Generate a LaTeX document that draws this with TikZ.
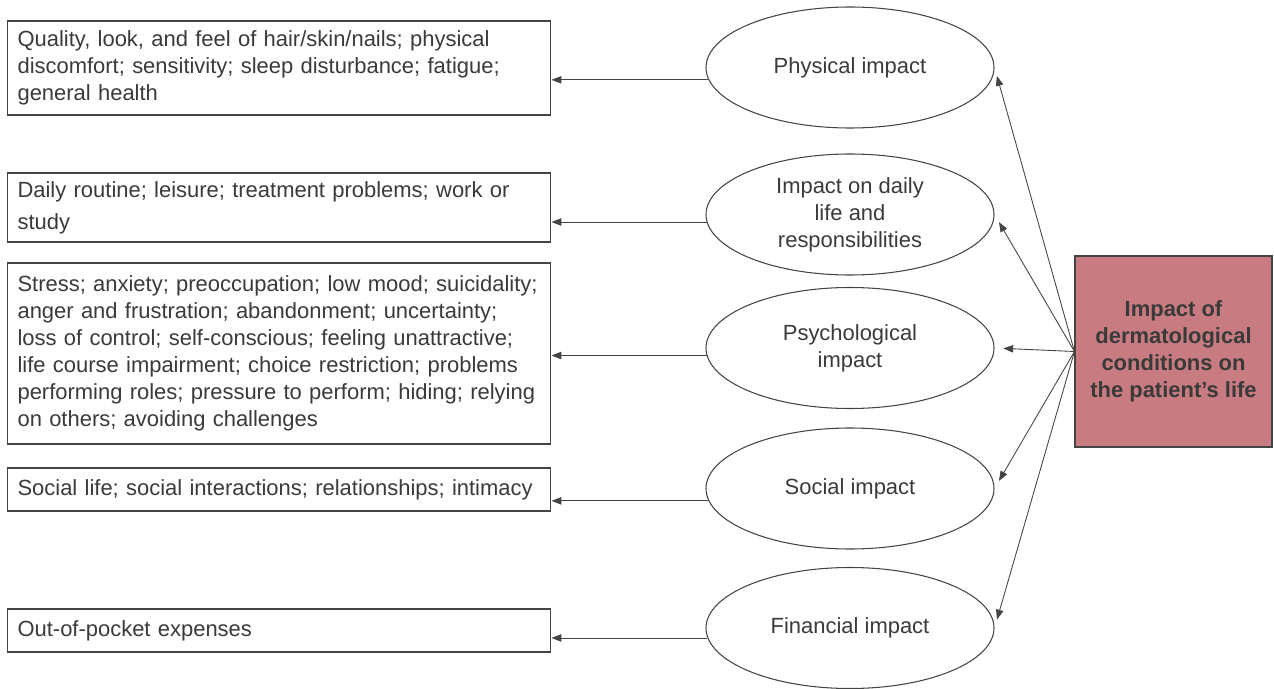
\documentclass[tikz,border=0pt]{standalone}
\usepackage{fontspec}
\setmainfont{Liberation Sans}
\usetikzlibrary{arrows.meta,shapes.geometric}
\definecolor{inkgray}{HTML}{3A3A3A}
\definecolor{linegray}{HTML}{444444}
\definecolor{rosered}{HTML}{C87B80}

\begin{document}
\begin{tikzpicture}[x=0.02cm,y=-0.02cm,>={Triangle[length=5.6pt,width=4.2pt]},
  font=\fontsize{12.5}{15.4}\selectfont,text=inkgray,
  item/.style={draw=linegray,line width=0.6pt,align=left,text width=10.46cm,inner xsep=0.21cm,inner ysep=0pt},
  area/.style={draw=linegray,line width=0.6pt,ellipse,minimum width=288*0.02cm,minimum height=121*0.02cm,inner sep=0pt,align=center},
  link/.style={draw=linegray,line width=0.5pt,->}]
\useasboundingbox (0,0) rectangle (1274,689);
\node[item,minimum height=94*0.02cm] (phys) at (279,68) {Quality, look, and feel of hair/skin/nails; physical\\discomfort; sensitivity; sleep disturbance; fatigue;\\general health};
\node[item,minimum height=69*0.02cm] (daily) at (279,207.5) {Daily routine; leisure; treatment problems; work or\\[3pt]study};
\node[item,minimum height=181*0.02cm] (psych) at (279,353.5) {Stress; anxiety; preoccupation; low mood; suicidality;\\anger and frustration; abandonment; uncertainty;\\loss of control; self-conscious; feeling unattractive;\\life course impairment; choice restriction; problems\\performing roles; pressure to perform; hiding; relying\\on others; avoiding challenges};
\node[item,minimum height=43*0.02cm] (social) at (279,489.5) {Social life; social interactions; relationships; intimacy};
\node[item,minimum height=43*0.02cm] (money) at (279,630.5) {Out-of-pocket expenses};

\node[area] (physimp) at (850,67.5) {Physical impact};
\node[area] (dailyimp) at (850,214.5) {Impact on daily\\life and\\responsibilities};
\node[area] (psychimp) at (850,348) {Psychological\\impact};
\node[area] (socialimp) at (850,488.5) {Social impact};
\node[area] (moneyimp) at (850,628) {Financial impact};

\node[draw=linegray,line width=0.6pt,fill=rosered,minimum width=197*0.02cm,minimum height=191*0.02cm,
  align=center,font=\fontsize{12.5}{15.4}\selectfont\bfseries] (life) at (1173.5,351.5)
  {Impact of\\dermatological\\conditions on\\the patient’s life};

\draw[link] (physimp.185) -- (physimp.185 -| phys.east);
\draw[link] (dailyimp.183) -- (dailyimp.183 -| daily.east);
\draw[link] (psychimp.183) -- (psychimp.183 -| psych.east);
\draw[link] (socialimp.185) -- (socialimp.185 -| social.east);
\draw[link] (moneyimp.184) -- (moneyimp.184 -| money.east);

\draw[link,shorten >=5pt] (life.west) -- (physimp.east);
\draw[link,shorten >=5pt] (life.west) -- (dailyimp.east);
\draw[link,shorten >=5pt] (life.west) -- (psychimp.east);
\draw[link,shorten >=5pt] (life.west) -- (socialimp.east);
\draw[link,shorten >=5pt] (life.west) -- (moneyimp.east);
\end{tikzpicture}
\end{document}
